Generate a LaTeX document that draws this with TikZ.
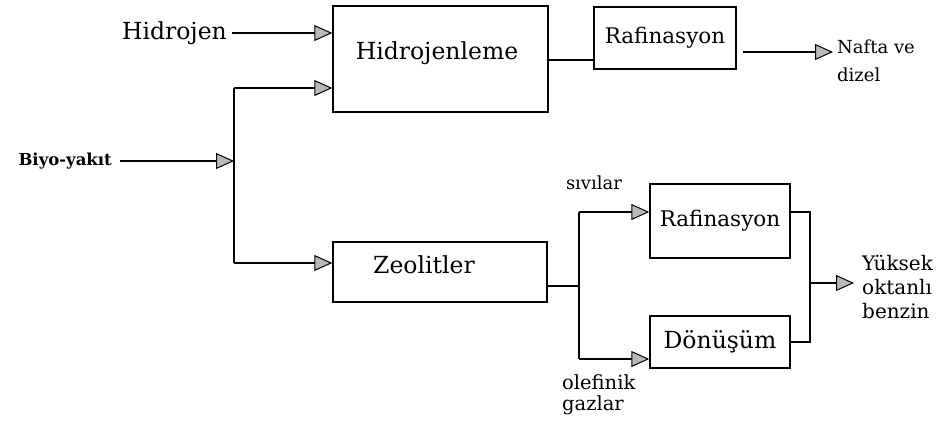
\documentclass[tikz,border=0pt]{standalone}
\usepackage{fontspec}
\setmainfont{DejaVu Serif}
\usetikzlibrary{arrows.meta,calc}
\begin{document}
\begin{tikzpicture}[x=1pt,y=-1pt,
  box/.style={draw, line width=1.5pt, inner sep=0pt, anchor=center},
  ln/.style={line width=1.5pt},
  arr/.style={line width=1.5pt, -{Triangle[length=18pt,width=16pt,fill=gray!55,line width=1pt]}},
  big/.style={inner sep=0pt, font=\fontsize{23.5}{28}\selectfont},
  mid/.style={inner sep=0pt, font=\fontsize{21.5}{26}\selectfont},
  sml/.style={inner sep=0pt, align=left},
  ]
\useasboundingbox (0,0) rectangle (947,434);
% boxes
\node[box, minimum width=215pt, minimum height=106pt] (hid) at (440.5,59) {};
\node[big] (hidt) at (437,53) {Hidrojenleme};
\node[box, minimum width=142pt, minimum height=62pt, mid] (raf1) at (665,38) {Rafinasyon};
\node[box, minimum width=214pt, minimum height=60pt] (zeo) at (440,272) {};
\node[big] (zeot) at (424,265) {Zeolitler};
\node[box, minimum width=140pt, minimum height=74pt, mid] (raf2) at (720,221) {Rafinasyon};
\node[box, minimum width=140pt, minimum height=52pt, big] (don) at (720,342) {Dönüşüm};
% labels
\node[big, anchor=east, inner xsep=5pt] (hidro) at (232,33) {Hidrojen};
\node[inner sep=0pt, font=\bfseries\fontsize{16.5}{20}\selectfont, anchor=east, inner xsep=8pt] (biyo) at (120,161) {Biyo-yakıt};
\node[sml, anchor=west, font=\fontsize{18}{28}\selectfont] (nafta) at (837,61) {Nafta ve\\dizel};
\node[inner sep=0pt, font=\fontsize{18}{22}\selectfont] (siv) at (594,183) {sıvılar};
\node[sml, anchor=north west, font=\fontsize{19.5}{21}\selectfont] (ole) at (562,374) {olefinik\\gazlar};
\node[sml, anchor=west, font=\fontsize{20}{24}\selectfont] (yuk) at (862,287) {Yüksek\\oktanlı\\benzin};
% junction coordinates
\coordinate (j1) at (234,88);
\coordinate (j2) at (234,263);
\coordinate (o1) at (743,52);
\coordinate (s1) at (579,286);
\coordinate (sa) at (579,212);
\coordinate (sb) at (579,359);
\coordinate (ma) at (810,212);
\coordinate (mb) at (810,342);
\coordinate (mo) at (810,283);
% connectors
\draw[arr] (hidro.east) -- (hidro.east -| hid.west);
\draw[ln] (j1) -- (j2);
\draw[arr] (j1) -- (j1 -| hid.west);
\draw[arr] (j2) -- (j2 -| zeo.west);
\draw[arr] (biyo.east) -- (biyo.east -| j1);
\draw[ln] ($(hid.east)+(0,1)$) -- ($(hid.east -| raf1.west)+(0,1)$);
\draw[arr] (o1) -- ($(o1 -| nafta.west)+(-4,0)$);
\draw[ln] (zeo.east |- s1) -- (s1);
\draw[ln] (sa) -- (sb);
\draw[arr] (sa) -- (sa -| raf2.west);
\draw[arr] (sb) -- (sb -| don.west);
\draw[ln] (raf2.east |- ma) -- (ma) -- (mb) -- (mb -| don.east);
\draw[arr] (mo) -- ($(mo -| yuk.west)+(-8,0)$);
\end{tikzpicture}
\end{document}
